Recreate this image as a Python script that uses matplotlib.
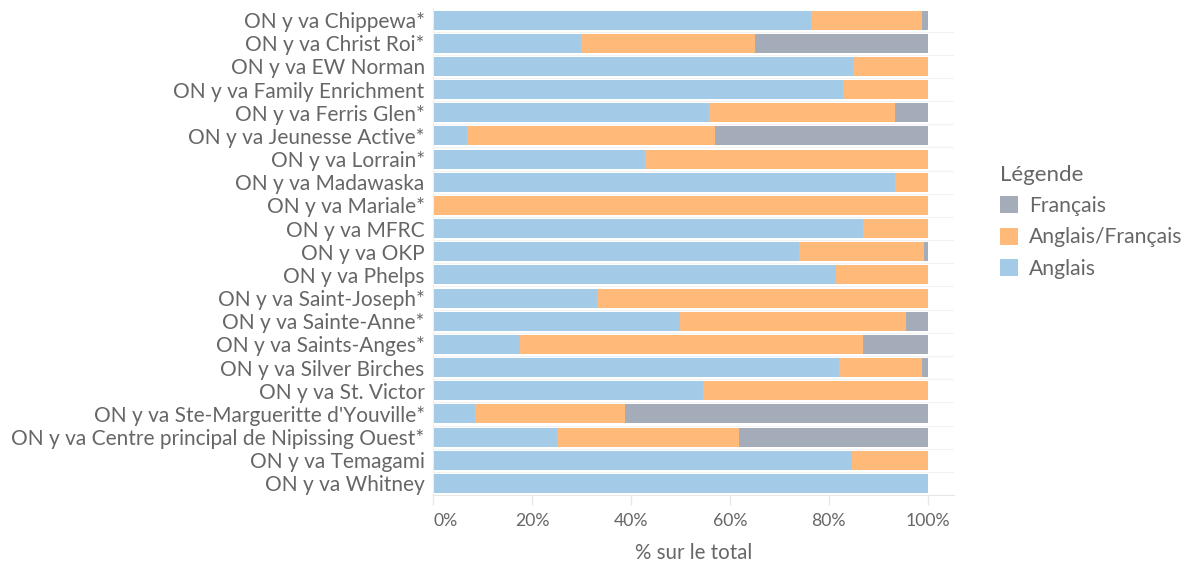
import matplotlib
matplotlib.use("Agg")
import matplotlib.pyplot as plt
import numpy as np
from matplotlib.ticker import FixedLocator

categories = [
    "ON y va Chippewa*",
    "ON y va Christ Roi*",
    "ON y va EW Norman",
    "ON y va Family Enrichment",
    "ON y va Ferris Glen*",
    "ON y va Jeunesse Active*",
    "ON y va Lorrain*",
    "ON y va Madawaska",
    "ON y va Mariale*",
    "ON y va MFRC",
    "ON y va OKP",
    "ON y va Phelps",
    "ON y va Saint-Joseph*",
    "ON y va Sainte-Anne*",
    "ON y va Saints-Anges*",
    "ON y va Silver Birches",
    "ON y va St. Victor",
    "ON y va Ste-Margueritte d'Youville*",
    "ON y va Centre principal de Nipissing Ouest*",
    "ON y va Temagami",
    "ON y va Whitney",
]

anglais = [0.763, 0.299, 0.849, 0.829, 0.557, 0.069, 0.428, 0.934, 0.0, 0.870,
           0.739, 0.814, 0.332, 0.500, 0.175, 0.820, 0.546, 0.085, 0.251, 0.847, 1.0]
anglais_francais = [0.225, 0.352, 0.151, 0.171, 0.377, 0.500, 0.572, 0.066, 1.0, 0.130,
                    0.253, 0.186, 0.668, 0.455, 0.695, 0.168, 0.454, 0.304, 0.367, 0.153, 0.0]
francais = [0.012, 0.349, 0.0, 0.0, 0.066, 0.431, 0.0, 0.0, 0.0, 0.0,
            0.008, 0.0, 0.0, 0.045, 0.130, 0.012, 0.0, 0.611, 0.382, 0.0, 0.0]

series_names = ["Anglais", "Anglais/Français", "Français"]
colors = {"Anglais": "#A3CAE6", "Anglais/Français": "#FFBA79", "Français": "#A3ACB8"}

xticks = [0, 0.2, 0.4, 0.6, 0.8, 1.0]
xticklabels = ["0%", "20%", "40%", "60%", "80%", "100%"]

plt.rcParams['font.family'] = ['Lato', 'DejaVu Sans']
text_color = "#666666"

fig = plt.figure(figsize=(11.91, 5.64), dpi=100)
ax = fig.add_axes([0.3636, 0.1223, 0.8010 - 0.3636, 0.985 - 0.1223])

y = np.arange(len(categories))
left = np.zeros(len(categories))
handles = {}
for name, vals in zip(series_names, [anglais, anglais_francais, francais]):
    vals = np.array(vals)
    b = ax.barh(y, vals, left=left, height=0.82, color=colors[name],
                edgecolor='none', label=name)
    handles[name] = b
    left += vals

# faint row dividers
for yy in y[:-1]:
    ax.axhline(yy + 0.5, color="#F2F2F2", lw=0.8, zorder=0)

ax.set_xlim(0, 1.053)
ax.set_ylim(len(categories) - 0.5, -0.5)
ax.set_yticks(y)
ax.set_yticklabels(categories, fontsize=15, color=text_color)
ax.tick_params(axis='y', length=0, pad=6)

ax.xaxis.set_major_locator(FixedLocator(xticks))
ax.set_xticklabels(xticklabels, fontsize=12.7, color=text_color)
ax.tick_params(axis='x', length=7, color="#E8E8E8", width=1, pad=6)
labs = ax.get_xticklabels()
labs[0].set_ha('left')

ax.set_xlabel("% sur le total", fontsize=14.8, color=text_color, labelpad=10)

for s in ['top', 'right']:
    ax.spines[s].set_visible(False)
ax.spines['bottom'].set_color("#E6E6E6")
ax.spines['left'].set_color("#EEEEEE")

leg = fig.legend([handles["Français"], handles["Anglais/Français"], handles["Anglais"]],
                 ["Français", "Anglais/Français", "Anglais"],
                 title="Légende", loc='upper left', bbox_to_anchor=(0.8395, 0.708),
                 frameon=False, fontsize=15.2, title_fontsize=16,
                 alignment='left', handlelength=0.85, handleheight=0.85,
                 handletextpad=0.55, labelspacing=0.54, borderpad=0,
                 borderaxespad=0)
for t in leg.get_texts():
    t.set_color(text_color)
leg.get_title().set_color(text_color)

fig.savefig("out.png", dpi=100)
